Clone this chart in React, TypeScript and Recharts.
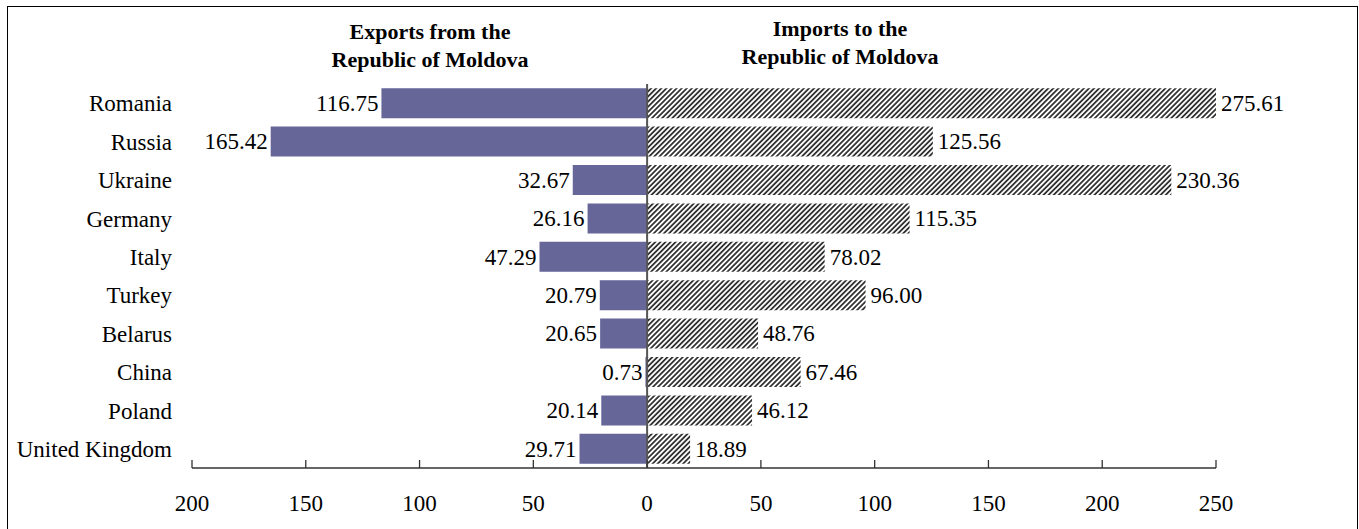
import React from 'react';
import { BarChart, Bar, XAxis, YAxis, ReferenceLine, LabelList } from 'recharts';

// Trade with the main partner countries
const categories = [
  'Romania',
  'Russia',
  'Ukraine',
  'Germany',
  'Italy',
  'Turkey',
  'Belarus',
  'China',
  'Poland',
  'United Kingdom',
];
const exportValues = [116.75, 165.42, 32.67, 26.16, 47.29, 20.79, 20.65, 0.73, 20.14, 29.71];
const importValues = [275.61, 125.56, 230.36, 115.35, 78.02, 96.0, 48.76, 67.46, 46.12, 18.89];
const axisTicks = [-200, -150, -100, -50, 0, 50, 100, 150, 200, 250];

// Exports are plotted to the left of zero, imports to the right
const data = categories.map((country, i) => ({
  country,
  exports: -exportValues[i],
  imports: importValues[i],
}));

const FONT = 'Liberation Serif, Times New Roman, serif';
const WIDTH = 1359;
const HEIGHT = 529;

const fmt = (v: number) => Math.abs(v).toFixed(2);

const ExportLabel = (p: any) => {
  const x = Number(p.x);
  const w = Number(p.width);
  const left = Math.min(x, x + w);
  return (
    <text
      x={left - 3}
      y={Number(p.y) + Number(p.height) / 2}
      dy="0.34em"
      textAnchor="end"
      style={{ fontFamily: FONT, fontSize: 23 }}
      fill="#000"
    >
      {fmt(Number(p.value))}
    </text>
  );
};

const ImportLabel = (p: any) => {
  const x = Number(p.x);
  const w = Number(p.width);
  const right = Math.max(x, x + w);
  return (
    <text
      x={right + 5}
      y={Number(p.y) + Number(p.height) / 2}
      dy="0.34em"
      textAnchor="start"
      style={{ fontFamily: FONT, fontSize: 23 }}
      fill="#000"
    >
      {fmt(Number(p.value))}
    </text>
  );
};

const AxisTick = (p: any) => {
  const x = Number(p.x);
  const y = Number(p.y);
  return (
    <g>
      <line x1={x} x2={x} y1={y - 8} y2={y} stroke="#333" strokeWidth={1.3} />
      <text
        x={x}
        y={y + 43}
        textAnchor="middle"
        style={{ fontFamily: FONT, fontSize: 23 }}
        fill="#000"
      >
        {Math.abs(Number(p.payload.value))}
      </text>
    </g>
  );
};

const titleStyle: React.CSSProperties = {
  position: 'absolute',
  width: 320,
  textAlign: 'center',
  fontFamily: FONT,
  fontWeight: 'bold',
  fontSize: 22,
  lineHeight: '28px',
  color: '#000',
};

export default function App() {
  return (
    <div
      style={{
        position: 'absolute',
        left: 0,
        top: 0,
        width: WIDTH,
        height: HEIGHT,
        overflow: 'hidden',
        background: '#fff',
      }}
    >
      <div
        style={{
          position: 'absolute',
          left: 7,
          top: 6,
          width: 1351,
          height: 600,
          boxSizing: 'border-box',
          border: '1px solid #000',
        }}
      />
      <div style={{ ...titleStyle, left: 430 - 160, top: 18 }}>
        Exports from the
        <br />
        Republic of Moldova
      </div>
      <div style={{ ...titleStyle, left: 840 - 160, top: 15 }}>
        Imports to the
        <br />
        Republic of Moldova
      </div>
      <div style={{ position: 'absolute', left: 0, top: 0 }}>
        <BarChart
          width={WIDTH}
          height={HEIGHT}
          data={data}
          layout="vertical"
          stackOffset="sign"
          barCategoryGap="11%"
          margin={{ top: 84, right: 143, bottom: 11, left: 0 }}
        >
          <defs>
            <pattern
              id="importHatch"
              patternUnits="userSpaceOnUse"
              width={3.6}
              height={3.6}
              patternTransform="rotate(45)"
            >
              <rect x={0} y={0} width={3.6} height={3.6} fill="#fff" />
              <rect x={0} y={0} width={1.8} height={3.6} fill="#333" />
            </pattern>
          </defs>
          <XAxis
            type="number"
            domain={[-200, 250]}
            ticks={axisTicks}
            allowDataOverflow
            height={50}
            stroke="#333"
            axisLine={{ stroke: '#333', strokeWidth: 1.3 }}
            tickLine={false}
            tickSize={0}
            tickMargin={0}
            tick={<AxisTick />}
            interval={0}
          />
          <YAxis
            type="category"
            dataKey="country"
            width={192}
            axisLine={false}
            tickLine={false}
            tickSize={0}
            tickMargin={20}
            interval={0}
            tick={{ fontFamily: FONT, fontSize: 23, fill: '#000' }}
          />
          <Bar dataKey="exports" stackId="trade" fill="#666699" isAnimationActive={false}>
            <LabelList dataKey="exports" content={<ExportLabel />} />
          </Bar>
          <Bar dataKey="imports" stackId="trade" fill="url(#importHatch)" isAnimationActive={false}>
            <LabelList dataKey="imports" content={<ImportLabel />} />
          </Bar>
          <ReferenceLine x={0} stroke="#555" strokeWidth={2} />
        </BarChart>
      </div>
    </div>
  );
}
